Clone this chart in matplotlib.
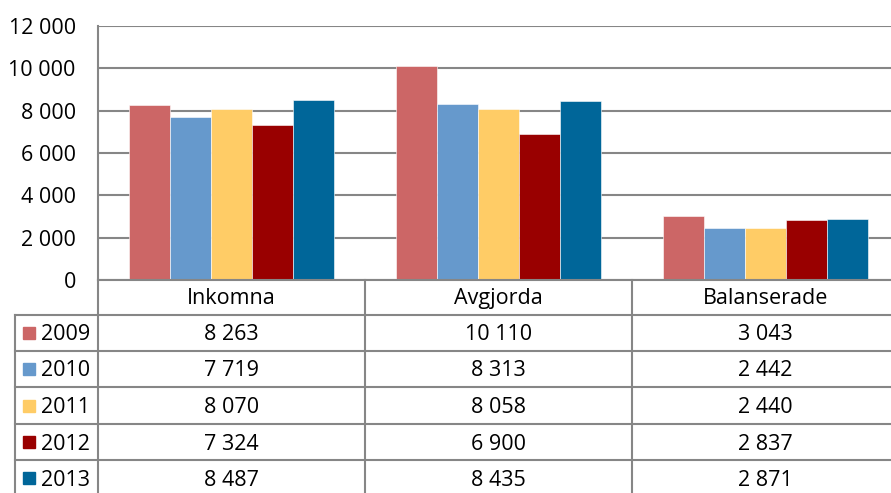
import numpy as np
import matplotlib.pyplot as plt
from matplotlib.lines import Line2D
from matplotlib.patches import Rectangle

categories = ['Inkomna', 'Avgjorda', 'Balanserade']
years = ['2009', '2010', '2011', '2012', '2013']
v2009 = [8263, 10110, 3043]
v2010 = [7719, 8313, 2442]
v2011 = [8070, 8058, 2440]
v2012 = [7324, 6900, 2837]
v2013 = [8487, 8435, 2871]
series = [v2009, v2010, v2011, v2012, v2013]
colors = ['#CC6666', '#6699CC', '#FFCC66', '#990000', '#006699']
yticks = [0, 2000, 4000, 6000, 8000, 10000, 12000]

W, H = 891, 493
plt.rcParams['font.family'] = ['Open Sans', 'DejaVu Sans']
fig = plt.figure(figsize=(W / 100, H / 100), dpi=100)
fs = 15.5

def fx(px):
    return px / W

def fy(py):
    return 1 - py / H

grid_c = '#868686'
col_edges = [98, 365, 632, 899]
left_ax, top_ax, bot_ax = 98, 26, 280

ax = fig.add_axes([fx(left_ax), fy(bot_ax), fx(col_edges[-1] - left_ax), fy(top_ax) - fy(bot_ax)])
x = np.arange(len(categories))
bw = 0.77 / len(series)
for i, vals in enumerate(series):
    ax.bar(x + (i - 2) * bw, vals, width=bw, color=colors[i], edgecolor='white', linewidth=0.4, zorder=3)
ax.set_xlim(-0.5, 2.5)
ax.set_ylim(0, 12000)
ax.set_yticks(yticks)
ax.set_yticklabels([f'{t:,}'.replace(',', ' ') for t in yticks], fontsize=fs)
ax.set_xticks([])
ax.yaxis.grid(True, color=grid_c, linewidth=1.5, zorder=0)
for s in ['top', 'right', 'bottom']:
    ax.spines[s].set_visible(False)
ax.spines['left'].set_color(grid_c)
ax.spines['left'].set_linewidth(1.5)
ax.tick_params(axis='y', length=0, pad=16)

# data table under the chart
row_y = [280, 315, 351, 387, 424, 460, 496]
lw = 1.5
def hline(y, x0, x1):
    fig.add_artist(Line2D([fx(x0), fx(x1)], [fy(y), fy(y)], color=grid_c, lw=lw))
def vline(x0, y0, y1):
    fig.add_artist(Line2D([fx(x0), fx(x0)], [fy(y0), fy(y1)], color=grid_c, lw=lw))

hline(row_y[0], 98, W)
for y in row_y[1:-1]:
    hline(y, 15, W)
for xe in col_edges[:-1]:
    vline(xe, row_y[0], H)
vline(15, row_y[1], H)

for j, cat in enumerate(categories):
    cx = (col_edges[j] + col_edges[j + 1]) / 2
    fig.text(fx(cx), fy((row_y[0] + row_y[1]) / 2 + 1), cat, ha='center', va='center', fontsize=fs)
    for i, vals in enumerate(series):
        fig.text(fx(cx), fy((row_y[i + 1] + row_y[i + 2]) / 2 + 2),
                 f'{vals[j]:,}'.replace(',', ' '), ha='center', va='center', fontsize=fs)

for i, yr in enumerate(years):
    cy = (row_y[i + 1] + row_y[i + 2]) / 2
    fig.add_artist(Rectangle((fx(23), fy(cy + 6)), fx(12), fy(cy - 6) - fy(cy + 6), color=colors[i]))
    fig.text(fx(41), fy(cy + 2), yr, ha='left', va='center', fontsize=fs)

fig.savefig('out.png', dpi=100)
